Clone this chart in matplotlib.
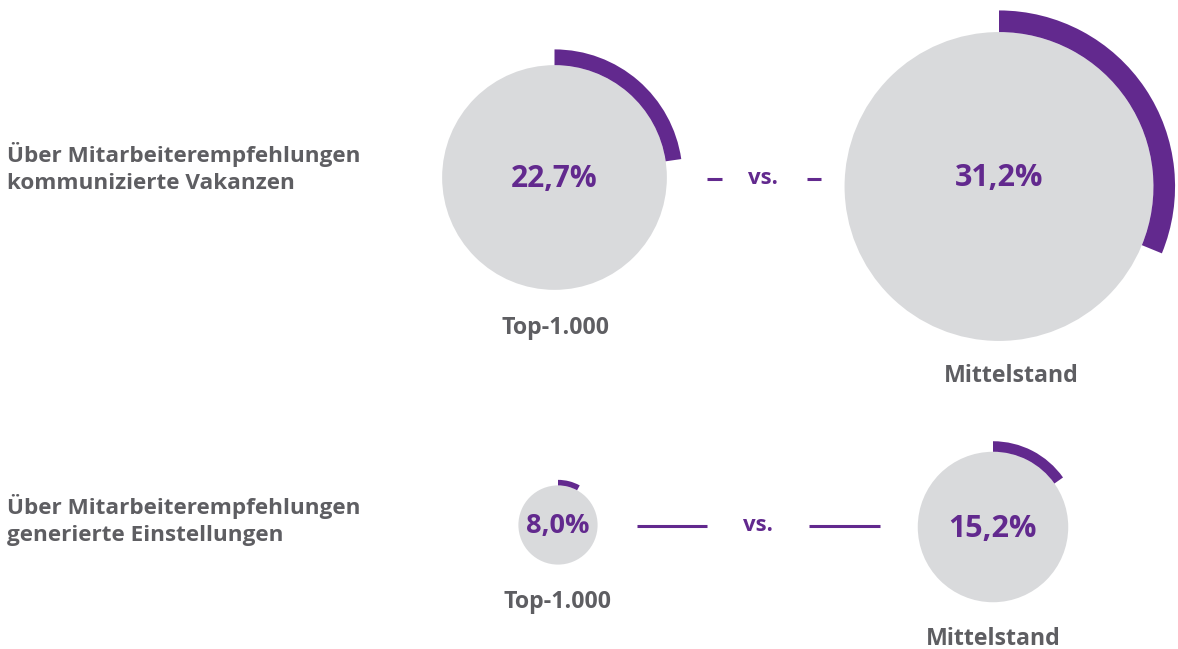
import matplotlib
matplotlib.use("Agg")
import matplotlib.pyplot as plt
from matplotlib.patches import Circle, Wedge

# ── Data ──────────────────────────────────────────────────────────────────────
row_labels = ["Über Mitarbeiterempfehlungen\nkommunizierte Vakanzen",
              "Über Mitarbeiterempfehlungen\ngenerierte Einstellungen"]
groups = ["Top-1.000", "Mittelstand"]
values_vakanzen = [22.7, 31.2]
values_einstellungen = [8.0, 15.2]

PURPLE = "#62298e"
GREY_CIRCLE = "#d9dadc"
GREY_TEXT = "#5e5e62"
FONT = "Open Sans"

W, H = 1178, 649
PX_PER_PCT = 4.95          # circle radius in px per percentage point

fig = plt.figure(figsize=(W / 100, H / 100), dpi=100)
ax = fig.add_axes([0, 0, 1, 1])
ax.set_xlim(0, W)
ax.set_ylim(0, H)
ax.set_aspect("equal")
ax.axis("off")


def y(py):
    return H - py


def bubble(cx, cy, val, text_dy, fs):
    r = val * PX_PER_PCT
    ring = r * 0.14
    ax.add_patch(Circle((cx, y(cy)), r, color=GREY_CIRCLE, lw=0))
    sweep = val / 100 * 360
    ax.add_patch(Wedge((cx, y(cy)), r + ring, 90 - sweep, 90, width=ring,
                       color=PURPLE, lw=0))
    ax.text(cx, y(cy + text_dy), f"{val:.1f}%".replace(".", ","), ha="center",
            va="center", fontsize=fs, color=PURPLE, fontweight="bold", family=FONT)


rows = [
    dict(vals=values_vakanzen, centers=[(554.5, 177.5), (999, 186.5)],
         text_dy=[1.5, -8], label_pos=[(555, 328), (1011, 376)], fs=[21.5, 22],
         label_y=168, vs_y=179, vs_x=763,
         lines=[(707, 722), (807, 821)]),
    dict(vals=values_einstellungen, centers=[(558, 525), (993, 527)],
         text_dy=[1, 2], label_pos=[(557, 602), (993, 639)], fs=[19.5, 22],
         label_y=520, vs_y=525.5, vs_x=758,
         lines=[(637, 707), (809, 880)]),
]

for lab, row in zip(row_labels, rows):
    ax.text(7, y(row["label_y"]), lab, ha="left", va="center", fontsize=16.2,
            color=GREY_TEXT, fontweight="bold", family=FONT, linespacing=1.38)
    for i, g in enumerate(groups):
        cx, cy = row["centers"][i]
        bubble(cx, cy, row["vals"][i], row["text_dy"][i], row["fs"][i])
        lx, ly = row["label_pos"][i]
        ax.text(lx, y(ly), g, ha="center", va="center", fontsize=16.7,
                color=GREY_TEXT, fontweight="bold", family=FONT)
    ax.text(row["vs_x"], y(row["vs_y"]), "vs.", ha="center", va="center",
            fontsize=16, color=PURPLE, fontweight="bold", family=FONT)
    for x0, x1 in row["lines"]:
        ax.plot([x0, x1], [y(row["vs_y"]), y(row["vs_y"])], color=PURPLE,
                lw=2.2, solid_capstyle="butt")

fig.savefig("out.png", dpi=100, facecolor="white")
